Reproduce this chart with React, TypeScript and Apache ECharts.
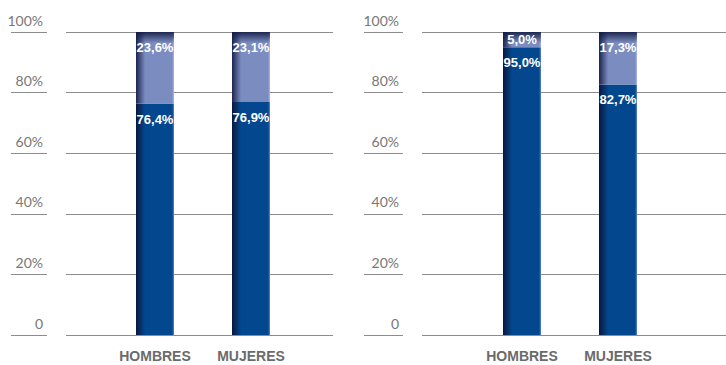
import React, { useEffect, useRef } from "react";
import * as echarts from "echarts";

const categories = ["HOMBRES", "MUJERES"];
const yTicks = [0, 20, 40, 60, 80, 100];
// Panel 1
const p1Dark = [76.4, 76.9];
const p1Light = [23.6, 23.1];
// Panel 2
const p2Dark = [95.0, 82.7];
const p2Light = [5.0, 17.3];
const full = [100, 100];

const DARK = "#03488e";
const LIGHT = "#7b8cc0";
const boldFont = "'Liberation Sans', Arial, sans-serif";

const fmt = (v: number) => v.toFixed(1).replace(".", ",") + "%";

const hGrad = (edge: string, base: string, right: string) =>
  new echarts.graphic.LinearGradient(0, 0, 1, 0, [
    { offset: 0, color: edge },
    { offset: 0.24, color: base },
    { offset: 0.95, color: base },
    { offset: 1, color: right },
  ]);

const capGrad = () =>
  new echarts.graphic.LinearGradient(0, 0, 0, 1, [
    { offset: 0, color: "rgba(18,26,66,0.9)" },
    { offset: 0.036, color: "rgba(18,26,66,0)" },
    { offset: 1, color: "rgba(18,26,66,0)" },
  ]);

export default function App() {
  const ref = useRef<HTMLDivElement>(null);
  useEffect(() => {
    if (!ref.current) return;
    const chart = echarts.init(ref.current, undefined, { renderer: "svg" });
    const top = 32;
    const height = 303;
    const grids = [
      { left: 11, width: 36, top, height },
      { left: 66, width: 267, top, height },
      { left: 107, width: 192, top, height },
      { left: 364, width: 39, top, height },
      { left: 422, width: 304, top, height },
      { left: 474, width: 192, top, height },
    ];
    const splitLine = { show: true, lineStyle: { color: "#8c8c8c", width: 1 } };
    const xAxis: any[] = [];
    const yAxis: any[] = [];
    grids.forEach((_, i) => {
      const kind = i % 3;
      if (kind === 2) {
        xAxis.push({
          type: "category",
          gridIndex: i,
          data: categories,
          axisLine: { show: false },
          axisTick: { show: false },
          axisLabel: {
            interval: 0,
            margin: 14,
            fontFamily: boldFont,
            fontWeight: "bold",
            fontSize: 14,
            color: "#6b6b6b",
          },
        });
        yAxis.push({ type: "value", gridIndex: i, min: 0, max: 100, interval: 20, show: false });
      } else {
        xAxis.push({ type: "value", gridIndex: i, min: 0, max: 1, show: false });
        yAxis.push({
          type: "value",
          gridIndex: i,
          min: 0,
          max: 100,
          interval: 20,
          position: "right",
          axisLine: { show: false },
          axisTick: { show: false },
          splitLine,
          axisLabel:
            kind === 0
              ? {
                  show: true,
                  inside: true,
                  margin: 4,
                  verticalAlign: "bottom",
                  padding: [0, 0, 5, 0],
                  fontFamily: "Lato, 'Noto Sans', sans-serif",
                  fontSize: 14,
                  color: "#777777",
                  customValues: yTicks,
                  formatter: (v: number) => (v === 0 ? "0" : v + "%"),
                }
              : { show: false },
        });
      }
    });

    const labelStyle = (small: boolean) => ({
      show: true,
      position: small ? "inside" : "insideTop",
      distance: 9,
      color: "#ffffff",
      fontFamily: boldFont,
      fontWeight: "bold",
      fontSize: 13,
      formatter: (p: any) => fmt(p.value),
    });

    const panelSeries = (axisIdx: number, dark: number[], light: number[]) => [
      {
        type: "bar",
        xAxisIndex: axisIdx,
        yAxisIndex: axisIdx,
        stack: "t" + axisIdx,
        barWidth: 38,
        data: dark.map((v) => ({ value: v, label: labelStyle(false) })),
        itemStyle: { color: hGrad("#0b1640", DARK, "#5d86c2") },
      },
      {
        type: "bar",
        xAxisIndex: axisIdx,
        yAxisIndex: axisIdx,
        stack: "t" + axisIdx,
        barWidth: 38,
        data: light.map((v) => ({ value: v, label: labelStyle(v < 8) })),
        itemStyle: { color: hGrad("#1b2450", LIGHT, "#aab7dd") },
      },
      {
        type: "bar",
        xAxisIndex: axisIdx,
        yAxisIndex: axisIdx,
        barWidth: 38,
        barGap: "-100%",
        silent: true,
        data: full,
        itemStyle: { color: capGrad() },
        label: { show: false },
      },
    ];

    chart.setOption({
      animation: false,
      grid: grids,
      xAxis,
      yAxis,
      series: [...panelSeries(2, p1Dark, p1Light), ...panelSeries(5, p2Dark, p2Light)],
    });
    return () => chart.dispose();
  }, []);
  return (
    <div
      ref={ref}
      style={{ position: "fixed", left: 0, top: 0, width: 726, height: 365, background: "#fff" }}
    />
  );
}
